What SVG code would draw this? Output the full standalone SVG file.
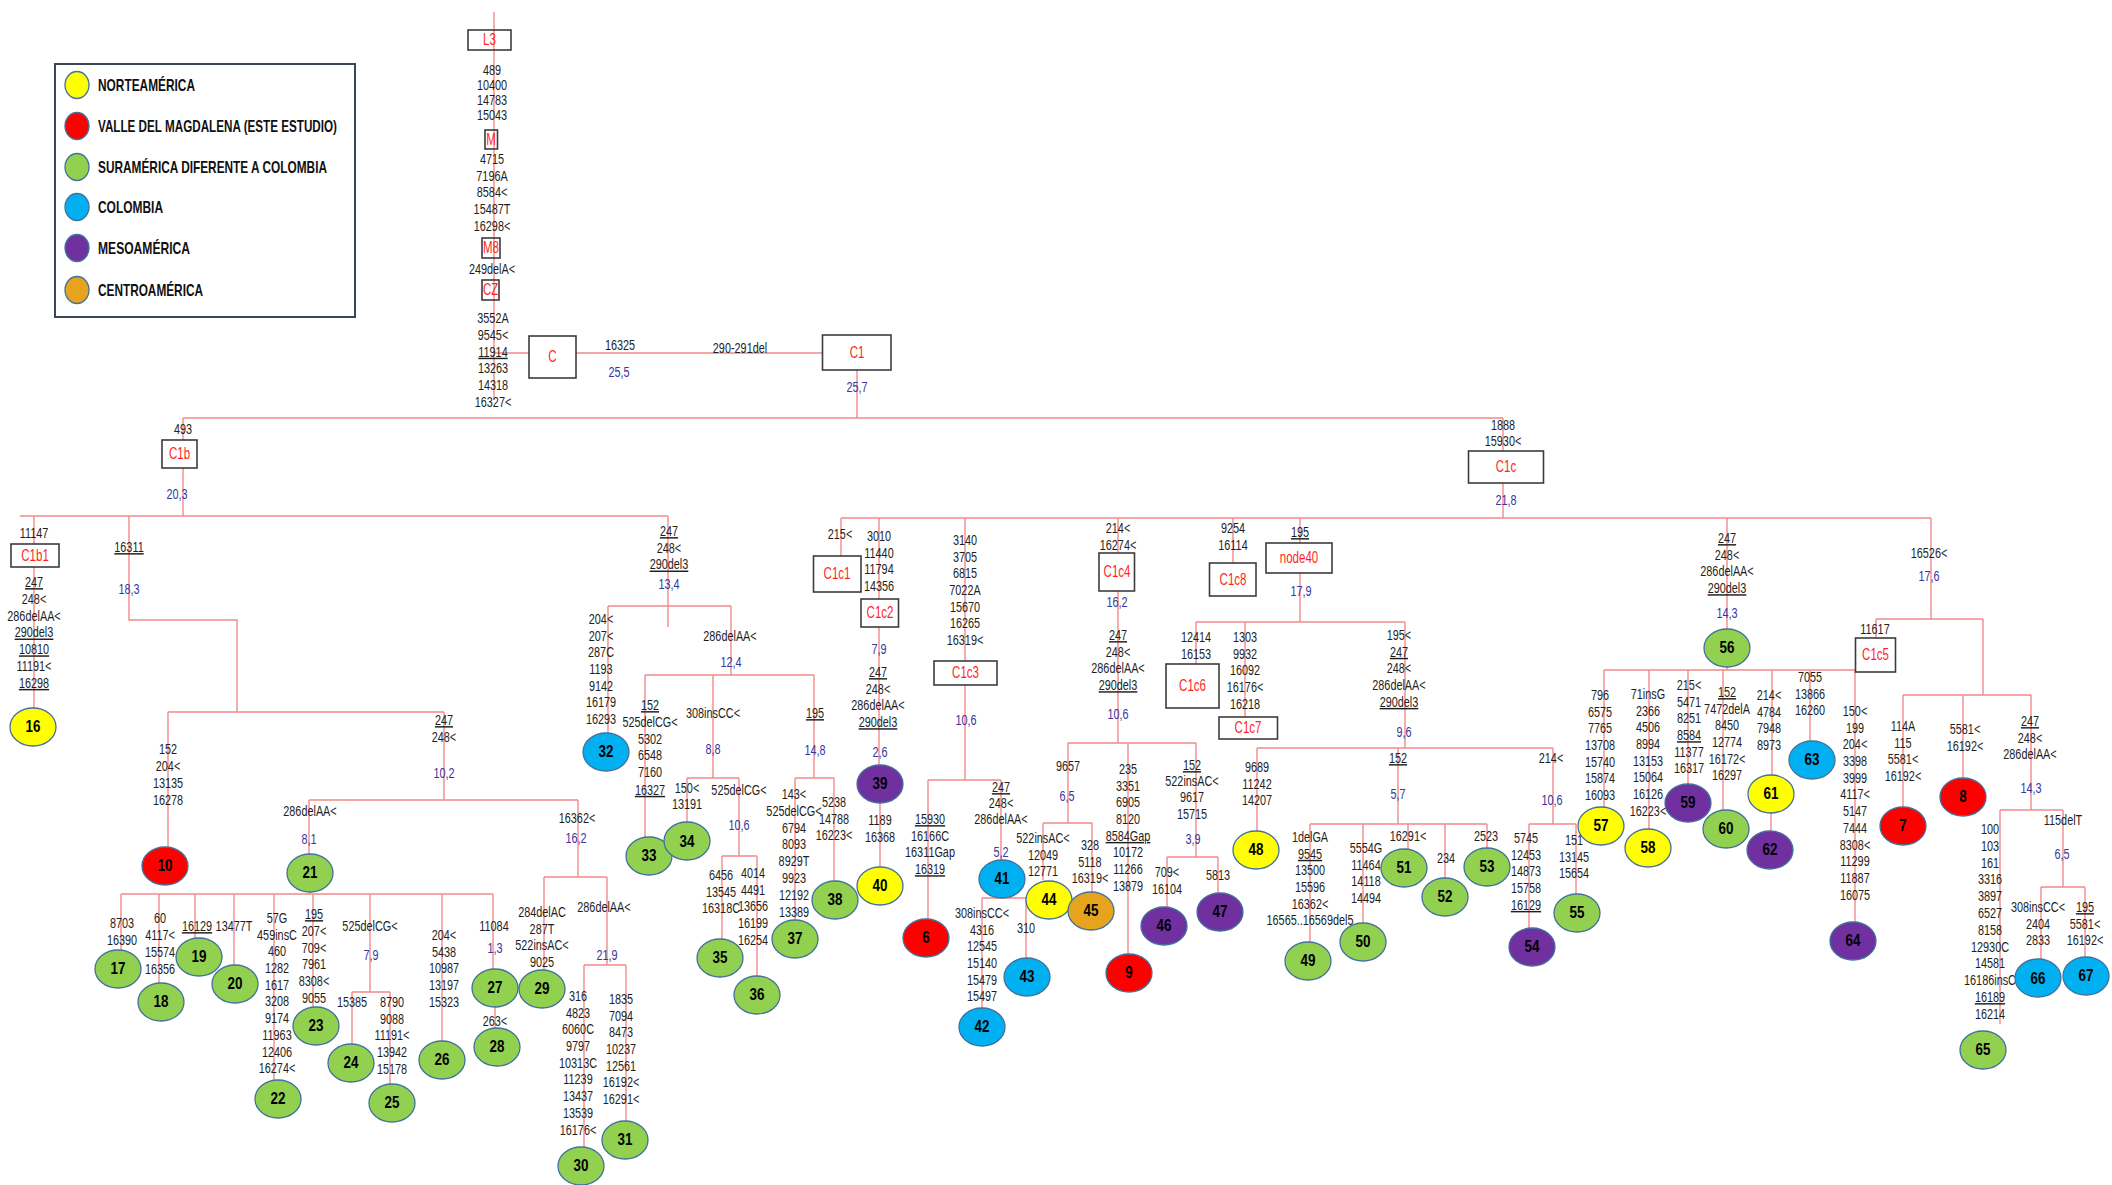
<svg xmlns="http://www.w3.org/2000/svg" width="2112" height="1185" viewBox="0 0 2112 1185">
<style>
.ln{fill:none;stroke:#f28a8a;stroke-width:1.4}
.bx{fill:#fff;stroke:#3c3c3c;stroke-width:1.6}
.bo{fill:none;stroke:#3c3c3c;stroke-width:1.6}
text{font-family:"Liberation Sans",Arial,sans-serif;text-anchor:middle;transform-box:fill-box;transform-origin:center}
.m{font-size:14.5px;fill:#1e1e1e;transform:scaleX(.75)}
.b{font-size:14.5px;fill:#36369e;transform:scaleX(.75)}
.h{font-size:16px;fill:#ff1f1f;transform:scaleX(.72)}
.n{font-size:16px;font-weight:bold;fill:#000;transform:scaleX(.84)}
.u{text-decoration:underline}
.e{stroke:#41719c;stroke-width:1.3}
.Y{fill:#ffff00}.R{fill:#ff0000}.G{fill:#92d050}.C{fill:#00b0f0}.P{fill:#7030a0}.O{fill:#e6a31e}
.lg{font-size:17px;font-weight:bold;text-anchor:start;fill:#111;transform:none}
</style>
<rect width="2112" height="1185" fill="#fff"/>
<g id="legend">
<rect x="55" y="64" width="300" height="253" fill="#fff" stroke="#3b4656" stroke-width="2"/>
<ellipse class="e Y" cx="77" cy="85" rx="12" ry="13.5"/>
<ellipse class="e R" cx="77" cy="126" rx="12" ry="13.5"/>
<ellipse class="e G" cx="77" cy="167" rx="12" ry="13.5"/>
<ellipse class="e C" cx="77" cy="207" rx="12" ry="13.5"/>
<ellipse class="e P" cx="77" cy="248" rx="12" ry="13.5"/>
<ellipse class="e O" cx="77" cy="290" rx="12" ry="13.5"/>
<text class="lg" x="98" y="91" textLength="97" lengthAdjust="spacingAndGlyphs">NORTEAMÉRICA</text>
<text class="lg" x="98" y="132" textLength="239" lengthAdjust="spacingAndGlyphs">VALLE DEL MAGDALENA (ESTE ESTUDIO)</text>
<text class="lg" x="98" y="173" textLength="229" lengthAdjust="spacingAndGlyphs">SURAMÉRICA DIFERENTE A COLOMBIA</text>
<text class="lg" x="98" y="213" textLength="65" lengthAdjust="spacingAndGlyphs">COLOMBIA</text>
<text class="lg" x="98" y="254" textLength="92" lengthAdjust="spacingAndGlyphs">MESOAMÉRICA</text>
<text class="lg" x="98" y="296" textLength="105" lengthAdjust="spacingAndGlyphs">CENTROAMÉRICA</text>
</g>
<g id="connectors" class="ln">
<path d="M494 12V400M494 353H529M576 353H822M857 370V418M183 418H1503M183 418V440M183 468V516M1503 418V451M1503 483V518"/>
<path d="M20 516H668M34 516V544M34 567V708M129 516V620H237V712M168 712H444M168 712V847M444 712V800M309 800H578M309 800V854M310 892V894M121 894H493M121 894V950M159 894V983M195 894V938M234 894V965M274 894V1080M313 894V1007M370 894V992M352 992H390M352 992V1044M390 992V1084M442 894V1041M493 894V969M495 1007V1028M578 800V877M544 877H607M544 877V970M607 877V965M584 965H626M584 965V1148M626 965V1121"/>
<path d="M668 516V627M608 606H731M608 606V733M731 606V675M645 675H814M645 675V837M713 675V778M687 778H739M687 778V822M739 778V856M722 856H757M722 856V939M757 856V976M814 675V778M795 778H834M795 778V920M834 778V881"/>
<path d="M841 518H1931M841 518V556M879 518V599M879 627V765M880 803V867M965 518V661M965 685V780M928 780H1001M928 780V919M1001 780V860M982 898H1026M982 898V1008M1026 898V958"/>
<path d="M1118 518V553M1118 591V743M1068 743H1196M1068 743V823M1043 823H1092M1043 823V880M1092 823V892M1128 743V954M1196 743V857M1167 857H1218M1167 857V907M1218 857V893"/>
<path d="M1233 518V563M1300 518V543M1300 573V622M1196 622H1405M1196 622V664M1245 622V717M1405 622V748M1257 748H1553M1257 748V831M1398 748V824M1310 824H1487M1310 824V942M1363 824V923M1408 824V849M1445 824V878M1487 824V848M1553 748V824M1529 824H1576M1529 824V928M1576 824V894"/>
<path d="M1727 518V629M1727 667V670M1604 670H1855M1604 670V807M1649 670V829M1688 670V784M1723 670V810M1772 670V775M1771 813V831M1810 670V741M1855 670V922M1931 518V619M1876 619H1983M1876 619V638M1983 619V695M1903 695H2031M1903 695V807M1963 695V778M2031 695V810M2000 810H2063M2000 810V1024M2063 810V887M2041 887H2085M2041 887V959M2085 887V957"/>
</g>
<g id="mutations">
<text class="m" y="75"><tspan x="492">489</tspan><tspan x="492" dy="15">10400</tspan><tspan x="492" dy="15">14783</tspan><tspan x="492" dy="15">15043</tspan></text>
<text class="m" y="164"><tspan x="492">4715</tspan><tspan x="492" dy="16.7">7196A</tspan><tspan x="492" dy="16.7">8584&lt;</tspan><tspan x="492" dy="16.7">15487T</tspan><tspan x="492" dy="16.7">16298&lt;</tspan></text>
<text class="m" x="492" y="274">249delA&lt;</text>
<text class="m" y="323"><tspan x="493">3552A</tspan><tspan x="493" dy="16.8">9545&lt;</tspan><tspan x="493" dy="16.8" class="u">11914</tspan><tspan x="493" dy="16.8">13263</tspan><tspan x="493" dy="16.8">14318</tspan><tspan x="493" dy="16.8">16327&lt;</tspan></text>
<text class="m" x="620" y="350">16325</text>
<text class="b" x="619" y="377">25,5</text>
<text class="m" x="740" y="353">290-291del</text>
<text class="b" x="857" y="392">25,7</text>
<text class="m" x="183" y="434">493</text>
<text class="b" x="177" y="499">20,3</text>
<text class="m" y="430"><tspan x="1503">1888</tspan><tspan x="1503" dy="16">15930&lt;</tspan></text>
<text class="b" x="1506" y="505">21,8</text>
<text class="m" x="34" y="538">11147</text>
<text class="m" y="587"><tspan x="34" class="u">247</tspan><tspan x="34" dy="16.8">248&lt;</tspan><tspan x="34" dy="16.8">286delAA&lt;</tspan><tspan x="34" dy="16.8" class="u">290del3</tspan><tspan x="34" dy="16.8" class="u">10810</tspan><tspan x="34" dy="16.8">11191&lt;</tspan><tspan x="34" dy="16.8" class="u">16298</tspan></text>
<text class="m u" x="129" y="552">16311</text>
<text class="b" x="129" y="594">18,3</text>
<text class="m" y="754"><tspan x="168">152</tspan><tspan x="168" dy="17">204&lt;</tspan><tspan x="168" dy="17">13135</tspan><tspan x="168" dy="17">16278</tspan></text>
<text class="m" y="725"><tspan x="444" class="u">247</tspan><tspan x="444" dy="17">248&lt;</tspan></text>
<text class="b" x="444" y="778">10,2</text>
<text class="m" x="310" y="816">286delAA&lt;</text>
<text class="b" x="309" y="844">8,1</text>
<text class="m" y="928"><tspan x="122">8703</tspan><tspan x="122" dy="17">16390</tspan></text>
<text class="m" y="923"><tspan x="160">60</tspan><tspan x="160" dy="17">4117&lt;</tspan><tspan x="160" dy="17">15574</tspan><tspan x="160" dy="17">16356</tspan></text>
<text class="m u" x="197" y="931">16129</text>
<text class="m" x="234" y="931">13477T</text>
<text class="m" y="923"><tspan x="277">57G</tspan><tspan x="277" dy="16.7">459insC</tspan><tspan x="277" dy="16.7">460</tspan><tspan x="277" dy="16.7">1282</tspan><tspan x="277" dy="16.7">1617</tspan><tspan x="277" dy="16.7">3208</tspan><tspan x="277" dy="16.7">9174</tspan><tspan x="277" dy="16.7">11963</tspan><tspan x="277" dy="16.7">12406</tspan><tspan x="277" dy="16.7">16274&lt;</tspan></text>
<text class="m" y="919"><tspan x="314" class="u">195</tspan><tspan x="314" dy="16.8">207&lt;</tspan><tspan x="314" dy="16.8">709&lt;</tspan><tspan x="314" dy="16.8">7961</tspan><tspan x="314" dy="16.8">8308&lt;</tspan><tspan x="314" dy="16.8">9055</tspan></text>
<text class="m" x="370" y="931">525delCG&lt;</text>
<text class="b" x="371" y="960">7,9</text>
<text class="m" x="352" y="1007">15385</text>
<text class="m" y="1007"><tspan x="392">8790</tspan><tspan x="392" dy="16.7">9088</tspan><tspan x="392" dy="16.7">11191&lt;</tspan><tspan x="392" dy="16.7">13942</tspan><tspan x="392" dy="16.7">15178</tspan></text>
<text class="m" y="940"><tspan x="444">204&lt;</tspan><tspan x="444" dy="16.7">5438</tspan><tspan x="444" dy="16.7">10987</tspan><tspan x="444" dy="16.7">13197</tspan><tspan x="444" dy="16.7">15323</tspan></text>
<text class="m" x="494" y="931">11084</text>
<text class="b" x="495" y="953">1,3</text>
<text class="m" x="495" y="1026">263&lt;</text>
<text class="m" x="577" y="823">16362&lt;</text>
<text class="b" x="576" y="843">16,2</text>
<text class="m" y="917"><tspan x="542">284delAC</tspan><tspan x="542" dy="16.7">287T</tspan><tspan x="542" dy="16.7">522insAC&lt;</tspan><tspan x="542" dy="16.7">9025</tspan></text>
<text class="m" x="604" y="912">286delAA&lt;</text>
<text class="b" x="607" y="960">21,9</text>
<text class="m" y="1001"><tspan x="578">316</tspan><tspan x="578" dy="16.7">4823</tspan><tspan x="578" dy="16.7">6060C</tspan><tspan x="578" dy="16.7">9797</tspan><tspan x="578" dy="16.7">10313C</tspan><tspan x="578" dy="16.7">11239</tspan><tspan x="578" dy="16.7">13437</tspan><tspan x="578" dy="16.7">13539</tspan><tspan x="578" dy="16.7">16176&lt;</tspan></text>
<text class="m" y="1004"><tspan x="621">1835</tspan><tspan x="621" dy="16.7">7094</tspan><tspan x="621" dy="16.7">8473</tspan><tspan x="621" dy="16.7">10237</tspan><tspan x="621" dy="16.7">12561</tspan><tspan x="621" dy="16.7">16192&lt;</tspan><tspan x="621" dy="16.7">16291&lt;</tspan></text>
<text class="m" y="536"><tspan x="669" class="u">247</tspan><tspan x="669" dy="16.7">248&lt;</tspan><tspan x="669" dy="16.7" class="u">290del3</tspan></text>
<text class="b" x="669" y="589">13,4</text>
<text class="m" y="624"><tspan x="601">204&lt;</tspan><tspan x="601" dy="16.7">207&lt;</tspan><tspan x="601" dy="16.7">287C</tspan><tspan x="601" dy="16.7">1193</tspan><tspan x="601" dy="16.7">9142</tspan><tspan x="601" dy="16.7">16179</tspan><tspan x="601" dy="16.7">16293</tspan></text>
<text class="m" x="730" y="641">286delAA&lt;</text>
<text class="b" x="731" y="667">12,4</text>
<text class="m" y="710"><tspan x="650" class="u">152</tspan><tspan x="650" dy="16.8">525delCG&lt;</tspan><tspan x="650" dy="16.8">5302</tspan><tspan x="650" dy="16.8">6548</tspan><tspan x="650" dy="16.8">7160</tspan><tspan x="650" dy="17.5" class="u">16327</tspan></text>
<text class="m" x="713" y="718">308insCC&lt;</text>
<text class="b" x="713" y="754">8,8</text>
<text class="m" y="793"><tspan x="687">150&lt;</tspan><tspan x="687" dy="16">13191</tspan></text>
<text class="m" x="739" y="795">525delCG&lt;</text>
<text class="b" x="739" y="830">10,6</text>
<text class="m" y="880"><tspan x="721">6456</tspan><tspan x="721" dy="16.7">13545</tspan><tspan x="721" dy="16.7">16318C</tspan></text>
<text class="m" y="878"><tspan x="753">4014</tspan><tspan x="753" dy="16.7">4491</tspan><tspan x="753" dy="16.7">13656</tspan><tspan x="753" dy="16.7">16199</tspan><tspan x="753" dy="16.7">16254</tspan></text>
<text class="m u" x="815" y="718">195</text>
<text class="b" x="815" y="755">14,8</text>
<text class="m" y="799"><tspan x="794">143&lt;</tspan><tspan x="794" dy="16.8">525delCG&lt;</tspan><tspan x="794" dy="16.8">6794</tspan><tspan x="794" dy="16.8">8093</tspan><tspan x="794" dy="16.8">8929T</tspan><tspan x="794" dy="16.8">9923</tspan><tspan x="794" dy="16.8">12192</tspan><tspan x="794" dy="16.8">13389</tspan></text>
<text class="m" y="807"><tspan x="834">5238</tspan><tspan x="834" dy="16.7">14788</tspan><tspan x="834" dy="16.7">16223&lt;</tspan></text>
<text class="m" x="840" y="539">215&lt;</text>
<text class="m" y="541"><tspan x="879">3010</tspan><tspan x="879" dy="16.7">11440</tspan><tspan x="879" dy="16.7">11794</tspan><tspan x="879" dy="16.7">14356</tspan></text>
<text class="b" x="879" y="654">7,9</text>
<text class="m" y="677"><tspan x="878" class="u">247</tspan><tspan x="878" dy="16.7">248&lt;</tspan><tspan x="878" dy="16.7">286delAA&lt;</tspan><tspan x="878" dy="16.7" class="u">290del3</tspan></text>
<text class="b" x="880" y="757">2,6</text>
<text class="m" y="825"><tspan x="880">1189</tspan><tspan x="880" dy="16.7">16368</tspan></text>
<text class="m" y="545"><tspan x="965">3140</tspan><tspan x="965" dy="16.7">3705</tspan><tspan x="965" dy="16.7">6815</tspan><tspan x="965" dy="16.7">7022A</tspan><tspan x="965" dy="16.7">15670</tspan><tspan x="965" dy="16.7">16265</tspan><tspan x="965" dy="16.7">16319&lt;</tspan></text>
<text class="b" x="966" y="725">10,6</text>
<text class="m" y="824"><tspan x="930" class="u">15930</tspan><tspan x="930" dy="16.7">16166C</tspan><tspan x="930" dy="16.7">16311Gap</tspan><tspan x="930" dy="16.7" class="u">16319</tspan></text>
<text class="m" y="792"><tspan x="1001" class="u">247</tspan><tspan x="1001" dy="16">248&lt;</tspan><tspan x="1001" dy="16.5">286delAA&lt;</tspan></text>
<text class="b" x="1001" y="857">5,2</text>
<text class="m" y="918"><tspan x="982">308insCC&lt;</tspan><tspan x="982" dy="16.7">4316</tspan><tspan x="982" dy="16.7">12545</tspan><tspan x="982" dy="16.7">15140</tspan><tspan x="982" dy="16.7">15479</tspan><tspan x="982" dy="16.7">15497</tspan></text>
<text class="m" x="1026" y="933">310</text>
<text class="m" y="533"><tspan x="1118">214&lt;</tspan><tspan x="1118" dy="16.7">16274&lt;</tspan></text>
<text class="b" x="1117" y="607">16,2</text>
<text class="m" y="640"><tspan x="1118" class="u">247</tspan><tspan x="1118" dy="16.7">248&lt;</tspan><tspan x="1118" dy="16.7">286delAA&lt;</tspan><tspan x="1118" dy="16.7" class="u">290del3</tspan></text>
<text class="b" x="1118" y="719">10,6</text>
<text class="m" x="1068" y="771">9657</text>
<text class="b" x="1067" y="801">6,5</text>
<text class="m" y="843"><tspan x="1043">522insAC&lt;</tspan><tspan x="1043" dy="16.7">12049</tspan><tspan x="1043" dy="16.7">12771</tspan></text>
<text class="m" y="850"><tspan x="1090">328</tspan><tspan x="1090" dy="16.7">5118</tspan><tspan x="1090" dy="16.7">16319&lt;</tspan></text>
<text class="m" y="774"><tspan x="1128">235</tspan><tspan x="1128" dy="16.7">3351</tspan><tspan x="1128" dy="16.7">6905</tspan><tspan x="1128" dy="16.7">8120</tspan><tspan x="1128" dy="16.7" class="u">8584Gap</tspan><tspan x="1128" dy="16.7">10172</tspan><tspan x="1128" dy="16.7">11266</tspan><tspan x="1128" dy="16.7">13879</tspan></text>
<text class="m" y="770"><tspan x="1192" class="u">152</tspan><tspan x="1192" dy="16">522insAC&lt;</tspan><tspan x="1192" dy="16.5">9617</tspan><tspan x="1192" dy="16.7">15715</tspan></text>
<text class="b" x="1193" y="844">3,9</text>
<text class="m" y="877"><tspan x="1167">709&lt;</tspan><tspan x="1167" dy="16.7">16104</tspan></text>
<text class="m" x="1218" y="880">5813</text>
<text class="m" y="533"><tspan x="1233">9254</tspan><tspan x="1233" dy="16.7">16114</tspan></text>
<text class="m u" x="1300" y="537">195</text>
<text class="b" x="1301" y="596">17,9</text>
<text class="m" y="642"><tspan x="1196">12414</tspan><tspan x="1196" dy="16.7">16153</tspan></text>
<text class="m" y="642"><tspan x="1245">1303</tspan><tspan x="1245" dy="16.7">9932</tspan><tspan x="1245" dy="16.7">16092</tspan><tspan x="1245" dy="16.7">16176&lt;</tspan><tspan x="1245" dy="16.7">16218</tspan></text>
<text class="m" y="640"><tspan x="1399">195&lt;</tspan><tspan x="1399" dy="16.7" class="u">247</tspan><tspan x="1399" dy="16.7">248&lt;</tspan><tspan x="1399" dy="16.7">286delAA&lt;</tspan><tspan x="1399" dy="16.7" class="u">290del3</tspan></text>
<text class="b" x="1404" y="737">9,6</text>
<text class="m" y="772"><tspan x="1257">9689</tspan><tspan x="1257" dy="16.7">11242</tspan><tspan x="1257" dy="16.7">14207</tspan></text>
<text class="m u" x="1398" y="763">152</text>
<text class="b" x="1398" y="799">5,7</text>
<text class="m" y="842"><tspan x="1310">1delGA</tspan><tspan x="1310" dy="16.7" class="u">9545</tspan><tspan x="1310" dy="16.7">13500</tspan><tspan x="1310" dy="16.7">15596</tspan><tspan x="1310" dy="16.7">16362&lt;</tspan><tspan x="1310" dy="16.7">16565..16569del5</tspan></text>
<text class="m" y="853"><tspan x="1366">5554G</tspan><tspan x="1366" dy="16.7">11464</tspan><tspan x="1366" dy="16.7">14118</tspan><tspan x="1366" dy="16.7">14494</tspan></text>
<text class="m" x="1408" y="841">16291&lt;</text>
<text class="m" x="1446" y="863">234</text>
<text class="m" x="1486" y="841">2523</text>
<text class="m" x="1551" y="763">214&lt;</text>
<text class="b" x="1552" y="805">10,6</text>
<text class="m" y="843"><tspan x="1526">5745</tspan><tspan x="1526" dy="16.7">12453</tspan><tspan x="1526" dy="16.7">14873</tspan><tspan x="1526" dy="16.7">15758</tspan><tspan x="1526" dy="16.7" class="u">16129</tspan></text>
<text class="m" y="845"><tspan x="1574">151</tspan><tspan x="1574" dy="16.7">13145</tspan><tspan x="1574" dy="16.7">15654</tspan></text>
<text class="m" y="543"><tspan x="1727" class="u">247</tspan><tspan x="1727" dy="16.7">248&lt;</tspan><tspan x="1727" dy="16.7">286delAA&lt;</tspan><tspan x="1727" dy="16.7" class="u">290del3</tspan></text>
<text class="b" x="1727" y="618">14,3</text>
<text class="m" y="700"><tspan x="1600">796</tspan><tspan x="1600" dy="16.7">6575</tspan><tspan x="1600" dy="16.7">7765</tspan><tspan x="1600" dy="16.7">13708</tspan><tspan x="1600" dy="16.7">15740</tspan><tspan x="1600" dy="16.7">15874</tspan><tspan x="1600" dy="16.7">16093</tspan></text>
<text class="m" y="699"><tspan x="1648">71insG</tspan><tspan x="1648" dy="16.7">2366</tspan><tspan x="1648" dy="16.7">4506</tspan><tspan x="1648" dy="16.7">8994</tspan><tspan x="1648" dy="16.7">13153</tspan><tspan x="1648" dy="16.7">15064</tspan><tspan x="1648" dy="16.7">16126</tspan><tspan x="1648" dy="16.7">16223&lt;</tspan></text>
<text class="m" y="690"><tspan x="1689">215&lt;</tspan><tspan x="1689" dy="16.7">5471</tspan><tspan x="1689" dy="16.7">8251</tspan><tspan x="1689" dy="16.7" class="u">8584</tspan><tspan x="1689" dy="16.7">11377</tspan><tspan x="1689" dy="16.7">16317</tspan></text>
<text class="m" y="697"><tspan x="1727" class="u">152</tspan><tspan x="1727" dy="16.7">7472delA</tspan><tspan x="1727" dy="16.7">8450</tspan><tspan x="1727" dy="16.7">12774</tspan><tspan x="1727" dy="16.7">16172&lt;</tspan><tspan x="1727" dy="16.7">16297</tspan></text>
<text class="m" y="700"><tspan x="1769">214&lt;</tspan><tspan x="1769" dy="16.7">4784</tspan><tspan x="1769" dy="16.7">7948</tspan><tspan x="1769" dy="16.7">8973</tspan></text>
<text class="m" y="682"><tspan x="1810">7055</tspan><tspan x="1810" dy="16.7">13866</tspan><tspan x="1810" dy="16.7">16260</tspan></text>
<text class="m" y="716"><tspan x="1855">150&lt;</tspan><tspan x="1855" dy="16.7">199</tspan><tspan x="1855" dy="16.7">204&lt;</tspan><tspan x="1855" dy="16.7">3398</tspan><tspan x="1855" dy="16.7">3999</tspan><tspan x="1855" dy="16.7">4117&lt;</tspan><tspan x="1855" dy="16.7">5147</tspan><tspan x="1855" dy="16.7">7444</tspan><tspan x="1855" dy="16.7">8308&lt;</tspan><tspan x="1855" dy="16.7">11299</tspan><tspan x="1855" dy="16.7">11887</tspan><tspan x="1855" dy="16.7">16075</tspan></text>
<text class="m" x="1929" y="558">16526&lt;</text>
<text class="b" x="1929" y="581">17,6</text>
<text class="m" x="1875" y="634">11617</text>
<text class="m" y="731"><tspan x="1903">114A</tspan><tspan x="1903" dy="16.7">115</tspan><tspan x="1903" dy="16.7">5581&lt;</tspan><tspan x="1903" dy="16.7">16192&lt;</tspan></text>
<text class="m" y="734"><tspan x="1965">5581&lt;</tspan><tspan x="1965" dy="16.7">16192&lt;</tspan></text>
<text class="m" y="726"><tspan x="2030" class="u">247</tspan><tspan x="2030" dy="16.7">248&lt;</tspan><tspan x="2030" dy="16.7">286delAA&lt;</tspan></text>
<text class="b" x="2031" y="793">14,3</text>
<text class="m" y="834"><tspan x="1990">100</tspan><tspan x="1990" dy="16.8">103</tspan><tspan x="1990" dy="16.8">161</tspan><tspan x="1990" dy="16.8">3316</tspan><tspan x="1990" dy="16.8">3897</tspan><tspan x="1990" dy="16.8">6527</tspan><tspan x="1990" dy="16.8">8158</tspan><tspan x="1990" dy="16.8">12930C</tspan><tspan x="1990" dy="16.8">14581</tspan><tspan x="1990" dy="16.8">16186insC</tspan><tspan x="1990" dy="16.8" class="u">16189</tspan><tspan x="1990" dy="16.8">16214</tspan></text>
<text class="m" x="2063" y="825">115delT</text>
<text class="b" x="2062" y="859">6,5</text>
<text class="m" y="912"><tspan x="2038">308insCC&lt;</tspan><tspan x="2038" dy="16.7">2404</tspan><tspan x="2038" dy="16.7">2833</tspan></text>
<text class="m" y="912"><tspan x="2085" class="u">195</tspan><tspan x="2085" dy="16.7">5581&lt;</tspan><tspan x="2085" dy="16.7">16192&lt;</tspan></text>
</g>
<g id="haplogroups">
<g id="hg-L3"><rect class="bo" x="468" y="30" width="43" height="20"/><text class="h" x="489.5" y="45.5">L3</text></g>
<g id="hg-M"><rect class="bo" x="485" y="130" width="12.5" height="19"/><text class="h" x="491" y="145">M</text></g>
<g id="hg-M8"><rect class="bo" x="482" y="238" width="18" height="20"/><text class="h" x="491" y="253.5">M8</text></g>
<g id="hg-CZ"><rect class="bo" x="482" y="280" width="17" height="20"/><text class="h" x="490.5" y="295.5">CZ</text></g>
<g id="hg-C"><rect class="bx" x="529" y="336" width="47" height="42"/><text class="h" x="552.5" y="362.5">C</text></g>
<g id="hg-C1"><rect class="bx" x="822.5" y="335" width="68.5" height="35"/><text class="h" x="857" y="358">C1</text></g>
<g id="hg-C1b"><rect class="bx" x="162" y="440" width="35" height="28"/><text class="h" x="179.5" y="459.5">C1b</text></g>
<g id="hg-C1c"><rect class="bx" x="1468.5" y="451" width="75" height="32"/><text class="h" x="1506" y="472.5">C1c</text></g>
<g id="hg-C1b1"><rect class="bx" x="11" y="544" width="48" height="23"/><text class="h" x="35" y="561">C1b1</text></g>
<g id="hg-C1c1"><rect class="bx" x="813.5" y="556" width="47.5" height="36"/><text class="h" x="837" y="579.5">C1c1</text></g>
<g id="hg-C1c2"><rect class="bx" x="861" y="599" width="37.5" height="28"/><text class="h" x="880" y="618.5">C1c2</text></g>
<g id="hg-C1c3"><rect class="bx" x="934" y="661" width="63" height="24"/><text class="h" x="965.5" y="678.5">C1c3</text></g>
<g id="hg-C1c4"><rect class="bx" x="1099" y="553" width="35.5" height="38"/><text class="h" x="1117" y="577.5">C1c4</text></g>
<g id="hg-C1c8"><rect class="bx" x="1209.5" y="563" width="46.5" height="33"/><text class="h" x="1233" y="585">C1c8</text></g>
<g id="hg-node40"><rect class="bx" x="1266" y="543" width="66" height="30"/><text class="h" x="1299" y="563.5">node40</text></g>
<g id="hg-C1c6"><rect class="bx" x="1166" y="664" width="53" height="44"/><text class="h" x="1192.5" y="691.5">C1c6</text></g>
<g id="hg-C1c7"><rect class="bx" x="1219" y="717" width="58.5" height="22"/><text class="h" x="1248" y="733.5">C1c7</text></g>
<g id="hg-C1c5"><rect class="bx" x="1855.5" y="638" width="40" height="34"/><text class="h" x="1875.5" y="660.5">C1c5</text></g>
</g>
<g id="samples">
<g id="s16"><ellipse class="e Y" cx="33" cy="727" rx="23" ry="19"/><text class="n" x="33" y="732.5">16</text></g>
<g id="s10"><ellipse class="e R" cx="165" cy="866" rx="23" ry="19"/><text class="n" x="165" y="871.5">10</text></g>
<g id="s21"><ellipse class="e G" cx="310" cy="873" rx="23" ry="19"/><text class="n" x="310" y="878.5">21</text></g>
<g id="s17"><ellipse class="e G" cx="118" cy="969" rx="23" ry="19"/><text class="n" x="118" y="974.5">17</text></g>
<g id="s18"><ellipse class="e G" cx="161" cy="1002" rx="23" ry="19"/><text class="n" x="161" y="1007.5">18</text></g>
<g id="s19"><ellipse class="e G" cx="199" cy="957" rx="23" ry="19"/><text class="n" x="199" y="962.5">19</text></g>
<g id="s20"><ellipse class="e G" cx="235" cy="984" rx="23" ry="19"/><text class="n" x="235" y="989.5">20</text></g>
<g id="s22"><ellipse class="e G" cx="278" cy="1099" rx="23" ry="19"/><text class="n" x="278" y="1104.5">22</text></g>
<g id="s23"><ellipse class="e G" cx="316" cy="1026" rx="23" ry="19"/><text class="n" x="316" y="1031.5">23</text></g>
<g id="s24"><ellipse class="e G" cx="351" cy="1063" rx="23" ry="19"/><text class="n" x="351" y="1068.5">24</text></g>
<g id="s25"><ellipse class="e G" cx="392" cy="1103" rx="23" ry="19"/><text class="n" x="392" y="1108.5">25</text></g>
<g id="s26"><ellipse class="e G" cx="442" cy="1060" rx="23" ry="19"/><text class="n" x="442" y="1065.5">26</text></g>
<g id="s27"><ellipse class="e G" cx="495" cy="988" rx="23" ry="19"/><text class="n" x="495" y="993.5">27</text></g>
<g id="s28"><ellipse class="e G" cx="497" cy="1047" rx="23" ry="19"/><text class="n" x="497" y="1052.5">28</text></g>
<g id="s29"><ellipse class="e G" cx="542" cy="989" rx="23" ry="19"/><text class="n" x="542" y="994.5">29</text></g>
<g id="s30"><ellipse class="e G" cx="581" cy="1166" rx="23" ry="19"/><text class="n" x="581" y="1171.5">30</text></g>
<g id="s31"><ellipse class="e G" cx="625" cy="1140" rx="23" ry="19"/><text class="n" x="625" y="1145.5">31</text></g>
<g id="s32"><ellipse class="e C" cx="606" cy="752" rx="23" ry="19"/><text class="n" x="606" y="757.5">32</text></g>
<g id="s33"><ellipse class="e G" cx="649" cy="856" rx="23" ry="19"/><text class="n" x="649" y="861.5">33</text></g>
<g id="s34"><ellipse class="e G" cx="687" cy="841" rx="23" ry="19"/><text class="n" x="687" y="846.5">34</text></g>
<g id="s35"><ellipse class="e G" cx="720" cy="958" rx="23" ry="19"/><text class="n" x="720" y="963.5">35</text></g>
<g id="s36"><ellipse class="e G" cx="757" cy="995" rx="23" ry="19"/><text class="n" x="757" y="1000.5">36</text></g>
<g id="s37"><ellipse class="e G" cx="795" cy="939" rx="23" ry="19"/><text class="n" x="795" y="944.5">37</text></g>
<g id="s38"><ellipse class="e G" cx="835" cy="900" rx="23" ry="19"/><text class="n" x="835" y="905.5">38</text></g>
<g id="s39"><ellipse class="e P" cx="880" cy="784" rx="23" ry="19"/><text class="n" x="880" y="789.5">39</text></g>
<g id="s40"><ellipse class="e Y" cx="880" cy="886" rx="23" ry="19"/><text class="n" x="880" y="891.5">40</text></g>
<g id="s6"><ellipse class="e R" cx="926" cy="938" rx="23" ry="19"/><text class="n" x="926" y="943.5">6</text></g>
<g id="s41"><ellipse class="e C" cx="1002" cy="879" rx="23" ry="19"/><text class="n" x="1002" y="884.5">41</text></g>
<g id="s42"><ellipse class="e C" cx="982" cy="1027" rx="23" ry="19"/><text class="n" x="982" y="1032.5">42</text></g>
<g id="s43"><ellipse class="e C" cx="1027" cy="977" rx="23" ry="19"/><text class="n" x="1027" y="982.5">43</text></g>
<g id="s44"><ellipse class="e Y" cx="1049" cy="900" rx="23" ry="19"/><text class="n" x="1049" y="905.5">44</text></g>
<g id="s45"><ellipse class="e O" cx="1091" cy="911" rx="23" ry="19"/><text class="n" x="1091" y="916.5">45</text></g>
<g id="s9"><ellipse class="e R" cx="1129" cy="973" rx="23" ry="19"/><text class="n" x="1129" y="978.5">9</text></g>
<g id="s46"><ellipse class="e P" cx="1164" cy="926" rx="23" ry="19"/><text class="n" x="1164" y="931.5">46</text></g>
<g id="s47"><ellipse class="e P" cx="1220" cy="912" rx="23" ry="19"/><text class="n" x="1220" y="917.5">47</text></g>
<g id="s48"><ellipse class="e Y" cx="1256" cy="850" rx="23" ry="19"/><text class="n" x="1256" y="855.5">48</text></g>
<g id="s49"><ellipse class="e G" cx="1308" cy="961" rx="23" ry="19"/><text class="n" x="1308" y="966.5">49</text></g>
<g id="s50"><ellipse class="e G" cx="1363" cy="942" rx="23" ry="19"/><text class="n" x="1363" y="947.5">50</text></g>
<g id="s51"><ellipse class="e G" cx="1404" cy="868" rx="23" ry="19"/><text class="n" x="1404" y="873.5">51</text></g>
<g id="s52"><ellipse class="e G" cx="1445" cy="897" rx="23" ry="19"/><text class="n" x="1445" y="902.5">52</text></g>
<g id="s53"><ellipse class="e G" cx="1487" cy="867" rx="23" ry="19"/><text class="n" x="1487" y="872.5">53</text></g>
<g id="s54"><ellipse class="e P" cx="1532" cy="947" rx="23" ry="19"/><text class="n" x="1532" y="952.5">54</text></g>
<g id="s55"><ellipse class="e G" cx="1577" cy="913" rx="23" ry="19"/><text class="n" x="1577" y="918.5">55</text></g>
<g id="s56"><ellipse class="e G" cx="1727" cy="648" rx="23" ry="19"/><text class="n" x="1727" y="653.5">56</text></g>
<g id="s57"><ellipse class="e Y" cx="1601" cy="826" rx="23" ry="19"/><text class="n" x="1601" y="831.5">57</text></g>
<g id="s58"><ellipse class="e Y" cx="1648" cy="848" rx="23" ry="19"/><text class="n" x="1648" y="853.5">58</text></g>
<g id="s59"><ellipse class="e P" cx="1688" cy="803" rx="23" ry="19"/><text class="n" x="1688" y="808.5">59</text></g>
<g id="s60"><ellipse class="e G" cx="1726" cy="829" rx="23" ry="19"/><text class="n" x="1726" y="834.5">60</text></g>
<g id="s61"><ellipse class="e Y" cx="1771" cy="794" rx="23" ry="19"/><text class="n" x="1771" y="799.5">61</text></g>
<g id="s62"><ellipse class="e P" cx="1770" cy="850" rx="23" ry="19"/><text class="n" x="1770" y="855.5">62</text></g>
<g id="s63"><ellipse class="e C" cx="1812" cy="760" rx="23" ry="19"/><text class="n" x="1812" y="765.5">63</text></g>
<g id="s64"><ellipse class="e P" cx="1853" cy="941" rx="23" ry="19"/><text class="n" x="1853" y="946.5">64</text></g>
<g id="s7"><ellipse class="e R" cx="1903" cy="826" rx="23" ry="19"/><text class="n" x="1903" y="831.5">7</text></g>
<g id="s8"><ellipse class="e R" cx="1963" cy="797" rx="23" ry="19"/><text class="n" x="1963" y="802.5">8</text></g>
<g id="s65"><ellipse class="e G" cx="1983" cy="1050" rx="23" ry="19"/><text class="n" x="1983" y="1055.5">65</text></g>
<g id="s66"><ellipse class="e C" cx="2038" cy="978" rx="23" ry="19"/><text class="n" x="2038" y="983.5">66</text></g>
<g id="s67"><ellipse class="e C" cx="2086" cy="976" rx="23" ry="19"/><text class="n" x="2086" y="981.5">67</text></g>
</g>
</svg>
